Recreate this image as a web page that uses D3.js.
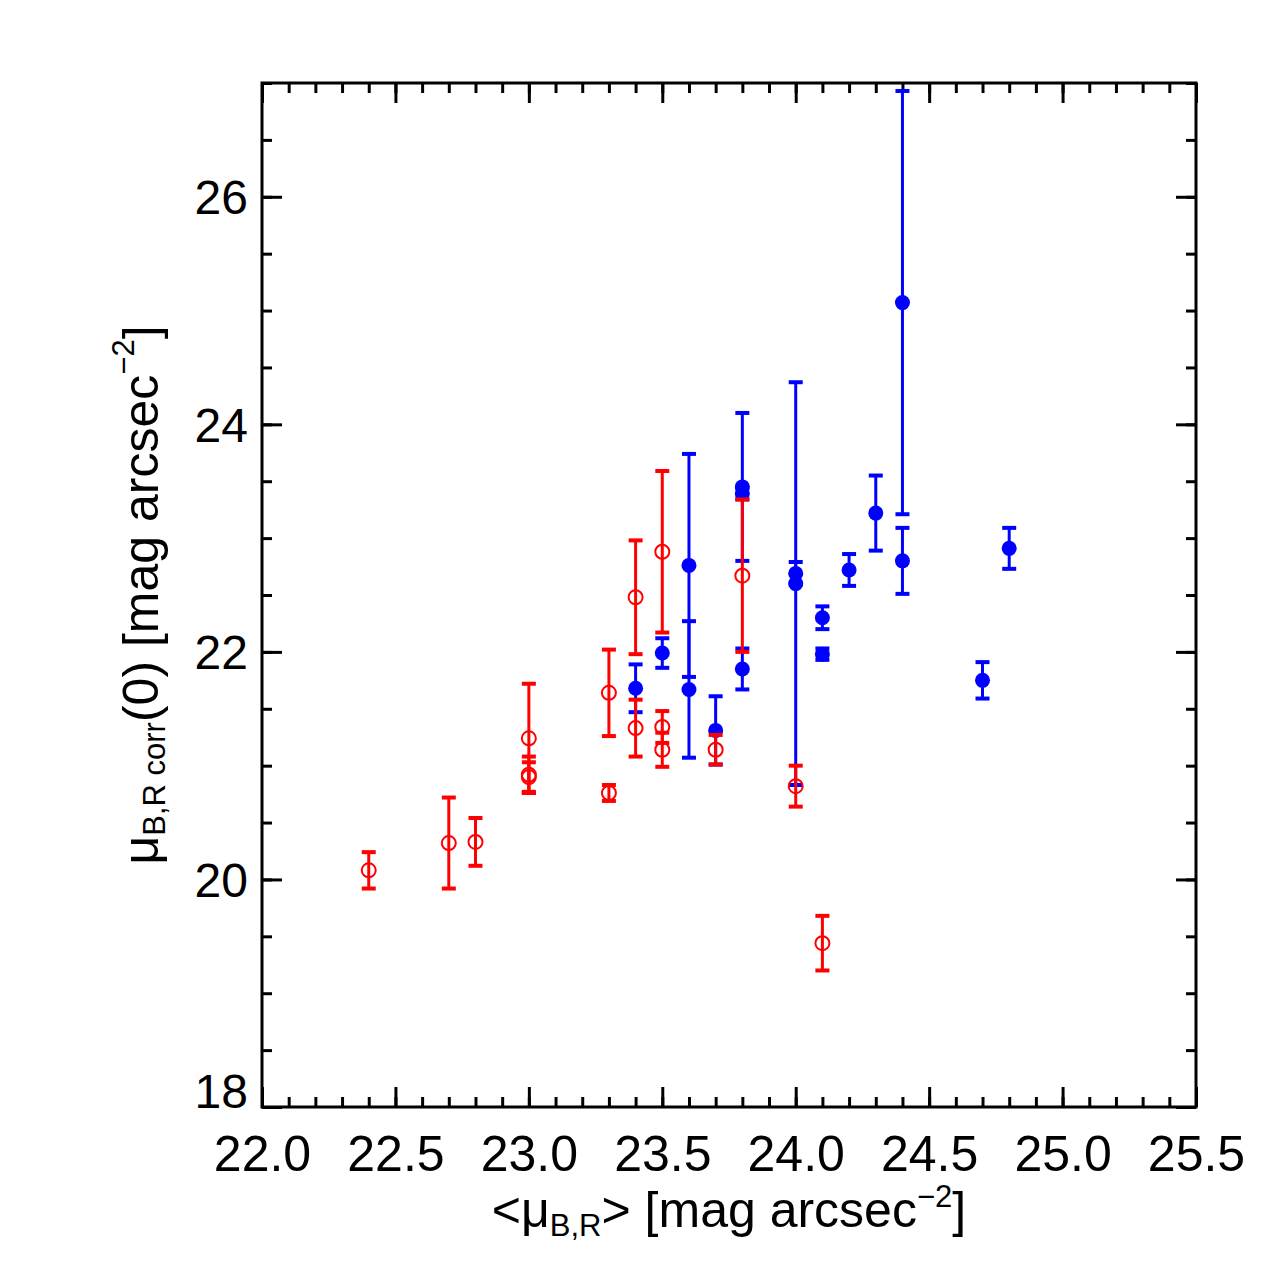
<!DOCTYPE html>
<html>
<head>
<meta charset="utf-8">
<script src="https://cdn.jsdelivr.net/npm/d3@7"></script>
<style>
  body { margin: 0; background: #fff; }
  svg { font-family: "Liberation Sans", Arial, Helvetica, sans-serif; }
</style>
</head>
<body>
<div class="chart"></div>
<script>
// tick labels
var xTicks = [22.0, 22.5, 23.0, 23.5, 24.0, 24.5, 25.0, 25.5];
var yTicks = [18, 20, 22, 24, 26];

// open red circles
var redX   = [22.4, 22.7, 22.8, 23.0, 23.0, 23.0, 23.3, 23.3, 23.4, 23.4, 23.5, 23.5, 23.5, 23.7, 23.8, 24.0, 24.1];
var redY   = [20.08, 20.32, 20.33, 21.24, 20.92, 20.90, 21.64, 20.76, 22.48, 21.33, 22.88, 21.34, 21.14, 21.14, 22.67, 20.82, 19.44];
var redErr = [0.16, 0.40, 0.21, 0.48, 0.16, 0.13, 0.38, 0.07, 0.50, 0.25, 0.71, 0.14, 0.15, 0.13, 0.67, 0.18, 0.24];

// filled blue circles
var blueX   = [23.4, 23.5, 23.6, 23.6, 23.7, 23.8, 23.8, 23.8, 24.0, 24.0, 24.1, 24.1, 24.2, 24.3, 24.4, 24.4, 24.7, 24.8];
var blueY   = [21.68, 21.99, 22.76, 21.67, 21.31, 23.45, 23.39, 21.85, 22.69, 22.60, 22.30, 21.98, 22.72, 23.22, 25.07, 22.80, 21.75, 22.91];
var blueErr = [0.21, 0.13, 0.98, 0.60, 0.30, 0.65, 0.05, 0.18, 0.10, 1.77, 0.10, 0.05, 0.14, 0.33, 1.86, 0.29, 0.16, 0.18];

var svgWidth = 1275;
var svgHeight = 1275;

var margin = {
    top: 83,
    right: 79,
    bottom: 168,
    left: 262
};

var width = svgWidth - margin.left - margin.right;
var height = svgHeight - margin.top - margin.bottom;

var svg = d3.select(".chart")
    .append("svg")
    .attr("width", svgWidth)
    .attr("height", svgHeight);

var chartGroup = svg.append("g")
    .attr("transform", `translate(${margin.left}, ${margin.top})`);

var xScale = d3.scaleLinear().domain([22, 25.5]).range([0, width]);
var yScale = d3.scaleLinear().domain([18, 27]).range([height, 0]);

var xMinor = d3.range(221, 256).map(d => d / 10);
var yMinor = d3.range(36, 55).map(d => d / 2);

// minor ticks, all four sides
function minorTicks(axis) {
    return axis.tickSize(-10).tickFormat("");
}
chartGroup.append("g").attr("transform", `translate(0, ${height})`)
    .call(minorTicks(d3.axisBottom(xScale).tickValues(xMinor)));
chartGroup.append("g")
    .call(minorTicks(d3.axisTop(xScale).tickValues(xMinor)));
chartGroup.append("g")
    .call(minorTicks(d3.axisLeft(yScale).tickValues(yMinor)));
chartGroup.append("g").attr("transform", `translate(${width}, 0)`)
    .call(minorTicks(d3.axisRight(yScale).tickValues(yMinor)));

// major ticks
var bottomAxis = chartGroup.append("g").attr("transform", `translate(0, ${height})`)
    .call(d3.axisBottom(xScale).tickValues(xTicks).tickSize(-20).tickFormat(d3.format(".1f")));
chartGroup.append("g")
    .call(d3.axisTop(xScale).tickValues(xTicks).tickSize(-20).tickFormat(""));
var leftAxis = chartGroup.append("g")
    .call(d3.axisLeft(yScale).tickValues(yTicks).tickSize(-20).tickFormat(d3.format("d")));
chartGroup.append("g").attr("transform", `translate(${width}, 0)`)
    .call(d3.axisRight(yScale).tickValues(yTicks).tickSize(-20).tickFormat(""));

chartGroup.selectAll(".domain").remove();
chartGroup.selectAll(".tick line").attr("stroke", "#000").attr("stroke-width", 3);

bottomAxis.selectAll("text")
    .attr("y", 64)
    .attr("dy", 0)
    .style("font-size", "50px")
    .style("font-family", "Liberation Sans, Arial, sans-serif")
    .attr("fill", "#000");

leftAxis.selectAll("text")
    .attr("x", -14)
    .attr("dy", d => d === 18 ? "0.0em" : "0.35em")
    .style("font-size", "48px")
    .style("font-family", "Liberation Sans, Arial, sans-serif")
    .attr("fill", "#000");

// frame
chartGroup.append("rect")
    .attr("width", width)
    .attr("height", height)
    .attr("fill", "none")
    .attr("stroke", "#000")
    .attr("stroke-width", 3);

// error bars + points
function drawSeries(xs, ys, errs, color, filled) {
    var data = xs.map((x, i) => ({x: x, y: ys[i], e: errs[i]}));
    var g = chartGroup.append("g");
    g.selectAll(".bar").data(data).enter().append("line")
        .attr("x1", d => xScale(d.x)).attr("x2", d => xScale(d.x))
        .attr("y1", d => yScale(d.y - d.e)).attr("y2", d => yScale(d.y + d.e))
        .attr("stroke", color).attr("stroke-width", 3);
    g.selectAll(".capTop").data(data).enter().append("line")
        .attr("x1", d => xScale(d.x) - 7).attr("x2", d => xScale(d.x) + 7)
        .attr("y1", d => yScale(d.y + d.e)).attr("y2", d => yScale(d.y + d.e))
        .attr("stroke", color).attr("stroke-width", 4);
    g.selectAll(".capBot").data(data).enter().append("line")
        .attr("x1", d => xScale(d.x) - 7).attr("x2", d => xScale(d.x) + 7)
        .attr("y1", d => yScale(d.y - d.e)).attr("y2", d => yScale(d.y - d.e))
        .attr("stroke", color).attr("stroke-width", 4);
    g.selectAll("circle").data(data).enter().append("circle")
        .attr("cx", d => xScale(d.x))
        .attr("cy", d => yScale(d.y))
        .attr("r", filled ? 7.5 : 7)
        .attr("fill", filled ? color : "none")
        .attr("stroke", color)
        .attr("stroke-width", filled ? 0 : 2);
}

drawSeries(blueX, blueY, blueErr, "#0000ff", true);
drawSeries(redX, redY, redErr, "#ff0000", false);

// axis titles
var xTitle = svg.append("text")
    .attr("x", margin.left + width / 2)
    .attr("y", 1227)
    .attr("text-anchor", "middle")
    .style("font-size", "50px")
    .attr("fill", "#000");
xTitle.append("tspan").text("<\u03bc");
xTitle.append("tspan").attr("dy", 9).style("font-size", "31px").text("B,R");
xTitle.append("tspan").attr("dy", -9).text("> [mag arcsec");
xTitle.append("tspan").attr("dy", -20).style("font-size", "31px").text("\u22122");
xTitle.append("tspan").attr("dy", 20).text("]");

var yTitle = svg.append("text")
    .attr("transform", `translate(158, ${margin.top + height / 2}) rotate(-90)`)
    .attr("text-anchor", "middle")
    .style("font-size", "50px")
    .attr("fill", "#000");
yTitle.append("tspan").text("\u03bc");
yTitle.append("tspan").attr("dy", 7).style("font-size", "31px").text("B,R corr");
yTitle.append("tspan").attr("dy", -7).text("(0) [mag arcsec");
yTitle.append("tspan").attr("dy", -24).style("font-size", "31px").text("\u22122");
yTitle.append("tspan").attr("dy", 24).text("]");
</script>
</body>
</html>
